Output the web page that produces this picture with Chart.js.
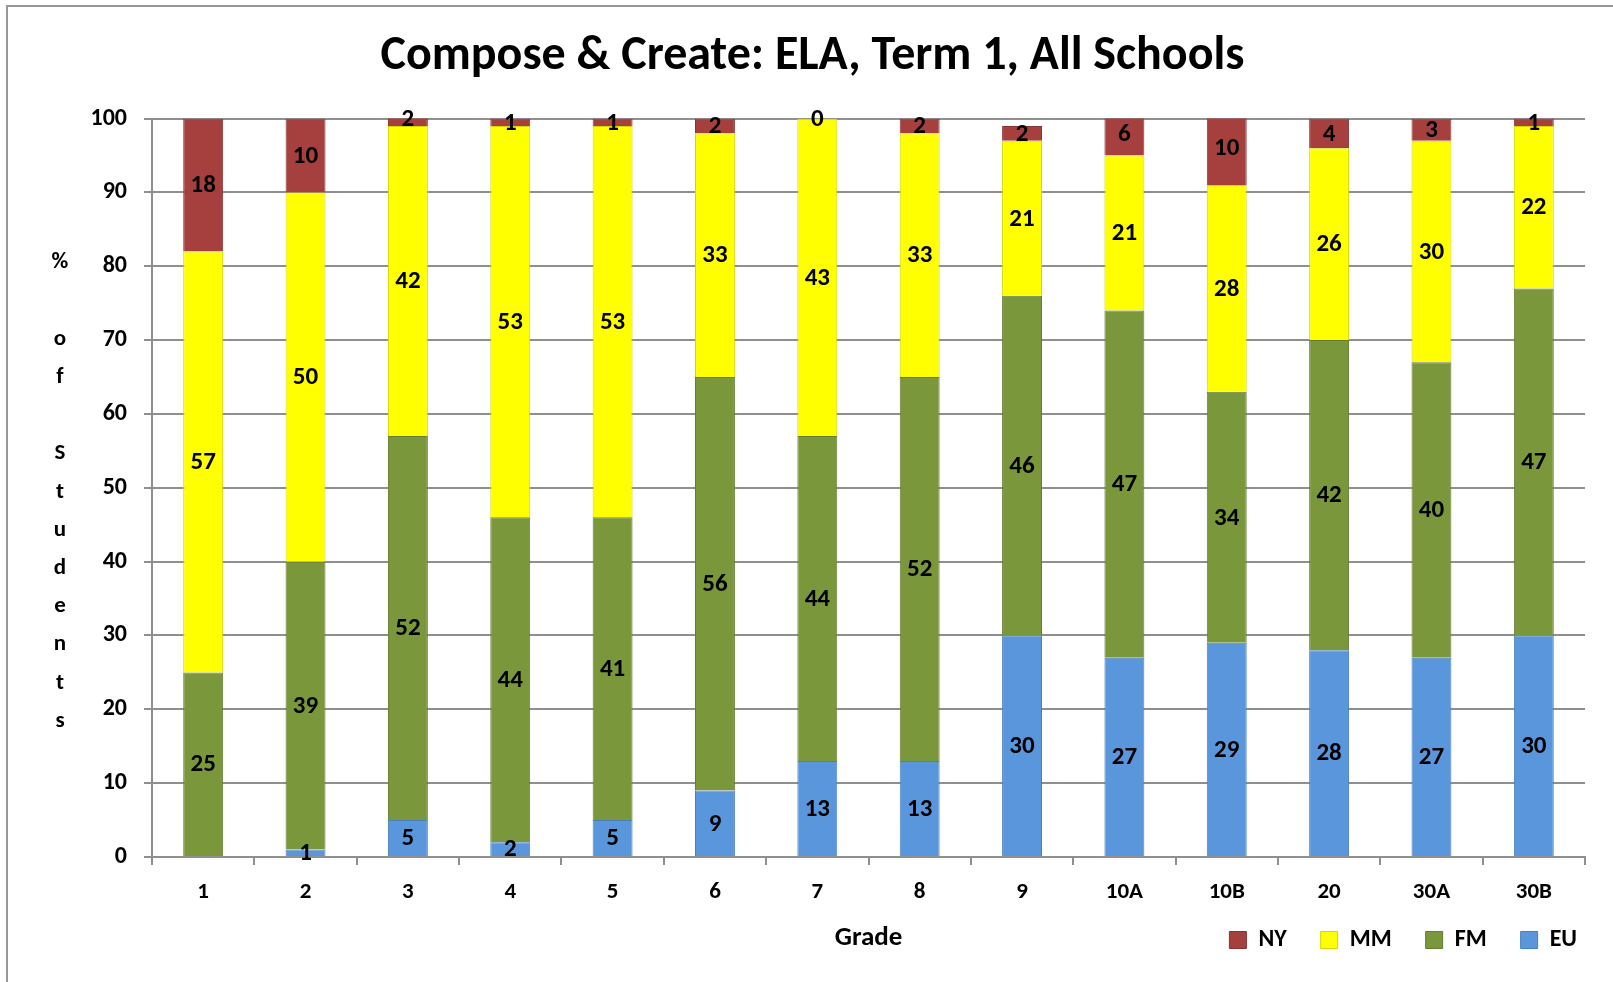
<!DOCTYPE html>
<html>
<head>
    <title>Compose & Create: ELA, Term 1, All Schools</title>
    <script src="https://cdn.jsdelivr.net/npm/chart.js"></script>
    <style>
        html, body { margin: 0; padding: 0; background: #fff; }
        #moldura {
            position: absolute; left: 6px; top: 5px; width: 1700px; height: 1100px;
            border-left: 2px solid #979797; border-top: 2px solid #979797;
        }
        #grafico { position: absolute; left: 0; top: 0; }
    </style>
</head>
<body>
    <div id="moldura"></div>
    <canvas id="grafico" width="1613" height="982"></canvas>

    <script>
        // Dados
        const series = ['EU', 'FM', 'MM', 'NY'];
        const grades = ['1', '2', '3', '4', '5', '6', '7', '8', '9', '10A', '10B', '20', '30A', '30B'];
        const eu = [null, 1, 5, 2, 5, 9, 13, 13, 30, 27, 29, 28, 27, 30];
        const fm = [25, 39, 52, 44, 41, 56, 44, 52, 46, 47, 34, 42, 40, 47];
        const mm = [57, 50, 42, 53, 53, 33, 43, 33, 21, 21, 28, 26, 30, 22];
        const ny = [18, 10, 2, 1, 1, 2, 0, 2, 2, 6, 10, 4, 3, 1];
        const yTitleLines = ['%', '', 'o', 'f', '', 'S', 't', 'u', 'd', 'e', 'n', 't', 's'];

        const fonte = 'Carlito, Lato, sans-serif';
        const cinza = '#8f8f8f';

        // rótulos no meio de cada segmento
        const rotulos = {
            id: 'rotulos',
            afterDatasetsDraw(chart) {
                const ctx = chart.ctx;
                ctx.save();
                ctx.font = 'bold 25px ' + fonte;
                ctx.fillStyle = '#000';
                ctx.textAlign = 'center';
                ctx.textBaseline = 'middle';
                chart.data.datasets.forEach((ds, i) => {
                    const meta = chart.getDatasetMeta(i);
                    meta.data.forEach((bar, j) => {
                        const v = ds.data[j];
                        if (v === null) return;
                        ctx.fillText(String(v), bar.x, (bar.y + bar.base) / 2 + 1);
                    });
                });
                ctx.restore();
            }
        };

        // legenda na mesma linha do título "Grade", encostada à direita; título um pouco à direita
        const ajusteLegenda = {
            id: 'ajusteLegenda',
            afterLayout(chart) {
                const l = chart.legend;
                l.top -= 13; l.bottom -= 13;
                l.left += 26; l.right += 26;
                const t = chart.titleBlock;
                t.left += 20; t.right += 20;
            }
        };

        // título vertical do eixo y e título "Grade" na linha da legenda
        const titulosEixos = {
            id: 'titulosEixos',
            afterDraw(chart) {
                const ctx = chart.ctx;
                const area = chart.chartArea;
                ctx.save();
                ctx.fillStyle = '#000';
                ctx.textAlign = 'center';
                ctx.textBaseline = 'middle';
                ctx.font = 'bold 23px ' + fonte;
                const passo = 38.2;
                const meio = (area.top + area.bottom) / 2 + 4;
                yTitleLines.forEach((l, k) => {
                    ctx.fillText(l, 60, meio + (k - (yTitleLines.length - 1) / 2) * passo);
                });
                ctx.font = 'bold 27px ' + fonte;
                const hb = chart.legend.legendHitBoxes[0];
                const yl = hb ? hb.top + hb.height / 2 : 938;
                ctx.fillText('Grade', (area.left + area.right) / 2, yl - 2);
                ctx.restore();
            }
        };

        const ctx = document.getElementById('grafico').getContext('2d');
        const myChart = new Chart(ctx, {
            type: 'bar',
            data: {
                labels: grades,
                datasets: [
                    { label: series[0], data: eu, backgroundColor: '#5a96dc', borderColor: '#4a7fbf' },
                    { label: series[1], data: fm, backgroundColor: '#7a973b', borderColor: '#647d30' },
                    { label: series[2], data: mm, backgroundColor: '#ffff00', borderColor: '#d6d600' },
                    { label: series[3], data: ny, backgroundColor: '#a5403f', borderColor: '#883333' }
                ].map(d => Object.assign(d, { borderWidth: 1, barPercentage: 0.39, categoryPercentage: 1 }))
            },
            options: {
                responsive: false,
                animation: false,
                layout: { padding: { left: 0, right: 28, top: 0, bottom: 7 } },
                scales: {
                    x: {
                        stacked: true,
                        afterFit(scale) { scale.height = 50; },
                        grid: { display: true, drawOnChartArea: false, offset: true, tickLength: 8, color: cinza, lineWidth: 2 },
                        border: { color: cinza, width: 2 },
                        ticks: { color: '#000', font: { family: fonte, size: 23, weight: 'bold' }, padding: 13, maxRotation: 0 }
                    },
                    y: {
                        stacked: true,
                        min: 0,
                        max: 100,
                        afterFit(scale) { scale.width = 152; },
                        grid: { color: cinza, lineWidth: 2, tickLength: 8 },
                        border: { color: cinza, width: 2 },
                        ticks: { stepSize: 10, color: '#000', font: { family: fonte, size: 24, weight: 'bold' }, padding: 17 }
                    }
                },
                plugins: {
                    title: {
                        display: true,
                        text: 'Compose & Create: ELA, Term 1, All Schools',
                        color: '#000',
                        font: { family: fonte, size: 48, weight: 'bold' },
                        padding: { top: 28, bottom: 33 }
                    },
                    legend: {
                        position: 'bottom',
                        align: 'end',
                        reverse: true,
                        labels: {
                            color: '#000',
                            boxWidth: 17,
                            boxHeight: 17,
                            padding: 34,
                            font: { family: fonte, size: 24, weight: 'bold' }
                        }
                    },
                    tooltip: { enabled: false }
                }
            },
            plugins: [rotulos, ajusteLegenda, titulosEixos]
        });
    </script>
</body>
</html>
